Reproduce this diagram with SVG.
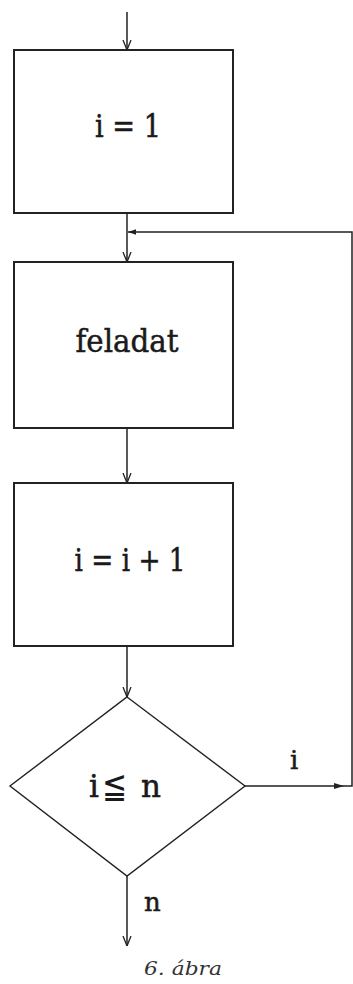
<svg xmlns="http://www.w3.org/2000/svg" width="353" height="984" viewBox="0 0 353 984">
  <style>
    .box { fill: none; stroke: #222; stroke-width: 2; }
    .dia { fill: none; stroke: #222; stroke-width: 1.4; }
    .ln { fill: none; stroke: #222; stroke-width: 1.5; }
    .lbl { font-family: "DejaVu Serif", "Liberation Serif", serif; fill: #1a1a1a; stroke: #1a1a1a; stroke-width: 0.5; }
    .big { font-size: 31px; text-anchor: middle; }
    .small { font-size: 26px; }
    .sym { font-family: "DejaVu Sans", "Noto Sans", sans-serif; font-size: 36px; fill: #1a1a1a; }
    .cap { font-family: "DejaVu Serif", serif; font-style: italic; font-size: 19px; fill: #333; }
  </style>
  <defs>
    <marker id="vee" viewBox="0 0 10 10" refX="10" refY="5" markerWidth="10" markerHeight="10" markerUnits="userSpaceOnUse" orient="auto">
      <path d="M0,1 L10,5 L0,9" fill="none" stroke="#222" stroke-width="1.3"/>
    </marker>
    <marker id="tri" viewBox="0 0 10 10" refX="10" refY="5" markerWidth="12" markerHeight="8" markerUnits="userSpaceOnUse" orient="auto">
      <path d="M0,1.5 L10,5 L0,8.5 Z" fill="#222"/>
    </marker>
  </defs>

  <rect width="353" height="984" fill="#fff"/>

  <g id="connectors">
    <line class="ln" x1="127" y1="12" x2="127" y2="50" marker-end="url(#vee)"/>
    <line class="ln" x1="127" y1="213" x2="127" y2="262" marker-end="url(#vee)"/>
    <polyline class="ln" points="245,786 352,786 352,232 128,232" marker-end="url(#tri)"/>
    <line class="ln" x1="127" y1="428" x2="127" y2="483" marker-end="url(#vee)"/>
    <line class="ln" x1="127" y1="646" x2="127" y2="697" marker-end="url(#vee)"/>
    <line class="ln" x1="127" y1="876" x2="127" y2="946" marker-end="url(#vee)"/>
    <path d="M334,783 L344,786 L334,789 Z" fill="#222"/>
    <text class="lbl small" x="290" y="769">i</text>
    <text class="lbl small" x="144" y="911">n</text>
  </g>

  <g id="init">
    <rect class="box" x="14" y="50" width="219" height="163"/>
    <text class="lbl big" x="128" y="137" textLength="66" lengthAdjust="spacingAndGlyphs">i = 1</text>
  </g>

  <g id="task">
    <rect class="box" x="14" y="262" width="219" height="166"/>
    <text class="lbl big" x="127" y="352" textLength="103" lengthAdjust="spacingAndGlyphs">feladat</text>
  </g>

  <g id="increment">
    <rect class="box" x="14" y="483" width="219" height="163"/>
    <text class="lbl big" x="130" y="571" textLength="111" lengthAdjust="spacingAndGlyphs">i = i + 1</text>
  </g>

  <g id="test">
    <polygon class="dia" points="127,697 245,786 127,876 10,786"/>
    <text class="lbl big" x="94" y="797">i</text>
    <text class="sym" x="102" y="798" textLength="25" lengthAdjust="spacingAndGlyphs">≦</text>
    <text class="lbl big" x="151" y="797">n</text>
  </g>

  <text class="cap" x="144" y="975" textLength="78" lengthAdjust="spacingAndGlyphs">6. ábra</text>
</svg>
